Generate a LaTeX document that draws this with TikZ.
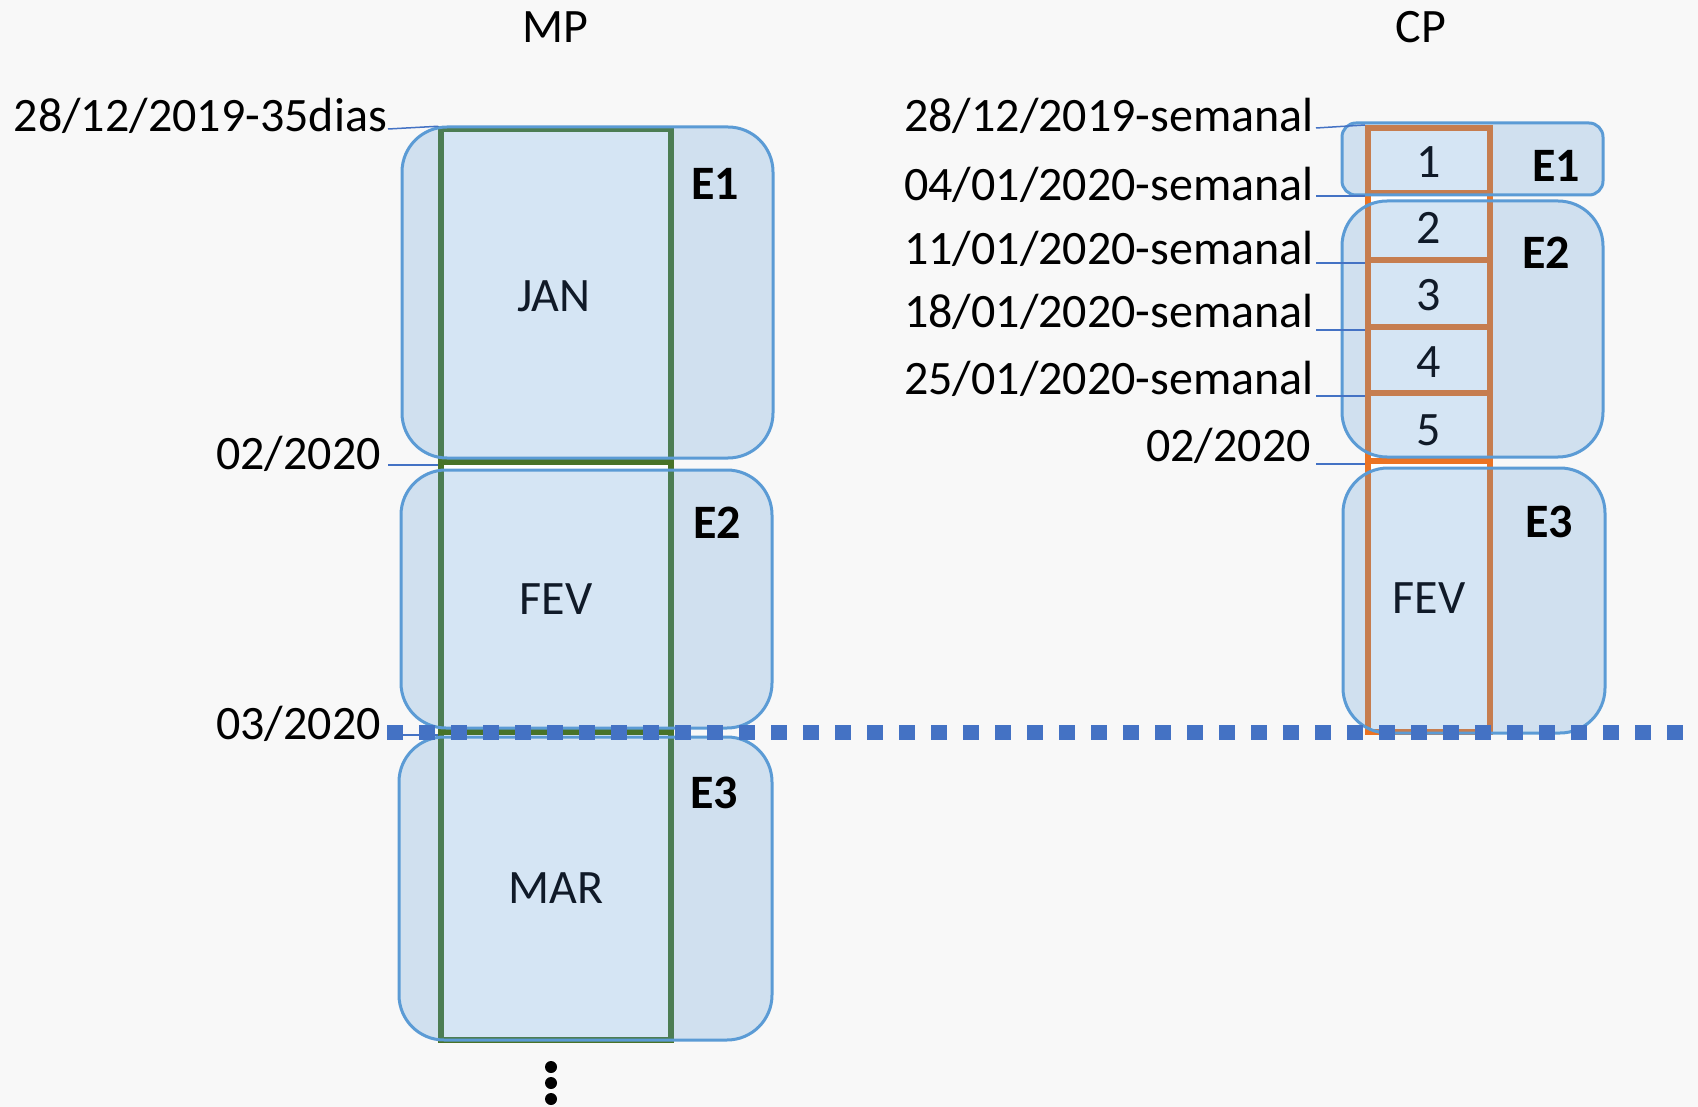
\documentclass[tikz,border=0pt]{standalone}
\usepackage{fontspec}
\setmainfont{Carlito}
\definecolor{bgc}{HTML}{F8F8F8}
\definecolor{boxb}{HTML}{5B9BD5}
\definecolor{grn}{RGB}{72,115,40}
\definecolor{org}{RGB}{235,115,35}
\definecolor{ldr}{HTML}{4472C4}
\definecolor{txt}{RGB}{16,26,40}
\begin{document}
\begin{tikzpicture}[x=1pt,y=-1pt,
  big/.style={font=\fontsize{48}{58}\selectfont},
  lab/.style={big, inner sep=0pt, anchor=base east, text=black},
  ctext/.style={big, inner sep=0pt, text=txt},
  etext/.style={big, inner sep=0pt, text=black, font=\fontsize{48}{58}\selectfont\bfseries},
  mpcell/.style={draw=grn, line width=5.5pt, fill=white, minimum width=230pt, inner sep=0pt},
  cpcell/.style={draw=org, line width=6pt, fill=white, minimum width=122pt, inner sep=0pt},
  ebox/.style={draw=boxb, line width=3pt, fill=boxb, fill opacity=0.25, draw opacity=1, rounded corners=45pt, inner sep=0pt},
  leader/.style={draw=ldr, line width=1.5pt},
  dotline/.style={draw=ldr, line width=15pt, dash pattern=on 16pt off 16pt},
  vdot/.style={circle, fill=black, minimum size=12pt, inner sep=0pt}
]
\fill[bgc] (0,0) rectangle (1698,1107);
\useasboundingbox (0,0) rectangle (1698,1107);

% ---------- MP column ----------
\node[mpcell, minimum height=333pt] (jan) at (556,295.5) {};
\node[mpcell, minimum height=270pt] (fev) at (556,597) {};
\node[mpcell, minimum height=308pt] (mar) at (556,886) {};

\node[ebox, minimum width=371pt, minimum height=331pt] (be1) at (587.5,292.5) {};
\node[ebox, minimum width=371pt, minimum height=258pt] (be2) at (586.5,599) {};
\node[ebox, minimum width=373pt, minimum height=303pt] (be3) at (585.5,888.5) {};

\node[ctext] (tjan) at (554,296) {JAN};
\node[ctext] (tfev) at (556,599) {FEV};
\node[ctext] (tmar) at (556,888) {MAR};
\node[etext] (le1) at (715,184) {E1};
\node[etext] (le2) at (717,523) {E2};
\node[etext] (le3) at (714,793) {E3};

\node[big, inner sep=0pt] (mp) at (555,27) {MP};
\node[lab] (l1) at (387,132) {28/12/2019-35dias};
\node[lab] (l2) at (381,469) {02/2020};
\node[lab] (l3) at (381,739) {03/2020};
\coordinate (l1e) at (388,129);
\draw[leader] (l1e) -- (jan.north west);
\draw[leader] (jan.south west -| l1e) -- (jan.south west);
\draw[leader] (fev.south west -| l1e) -- (fev.south west);

\node[vdot] (d1) at (551,1067) {};
\node[vdot] (d2) at (551,1083) {};
\node[vdot] (d3) at (551,1099) {};

% ---------- CP column ----------
\node[cpcell, minimum height=65pt] (c1) at (1429,160.5) {};
\node[cpcell, minimum height=67pt] (c2) at (1429,226.5) {};
\node[cpcell, minimum height=67pt] (c3) at (1429,293.5) {};
\node[cpcell, minimum height=66pt] (c4) at (1429,360) {};
\node[cpcell, minimum height=68pt] (c5) at (1429,427) {};
\node[cpcell, minimum height=271pt] (c6) at (1429,596.5) {};

\node[ebox, rounded corners=14pt, minimum width=261pt, minimum height=72pt] (bc1) at (1472.5,159) {};
\node[ebox, minimum width=261pt, minimum height=256pt] (bc2) at (1472.5,329) {};
\node[ebox, minimum width=262pt, minimum height=265pt] (bc3) at (1474,600.5) {};

\node[ctext] (n1) at (1429,162) {1};
\node[ctext] (n2) at (1429,228) {2};
\node[ctext] (n3) at (1429,295) {3};
\node[ctext] (n4) at (1429,362) {4};
\node[ctext] (n5) at (1429,430) {5};
\node[ctext] (n6) at (1429,598) {FEV};
\node[etext] (re1) at (1556,166) {E1};
\node[etext] (re2) at (1546,253) {E2};
\node[etext] (re3) at (1549,522) {E3};

\node[big, inner sep=0pt] (cp) at (1421,27) {CP};
\node[lab] (r1) at (1314,132) {28/12/2019-semanal};
\node[lab] (r2) at (1314,201) {04/01/2020-semanal};
\node[lab] (r3) at (1314,265) {11/01/2020-semanal};
\node[lab] (r4) at (1314,328) {18/01/2020-semanal};
\node[lab] (r5) at (1314,395) {25/01/2020-semanal};
\node[lab] (r6) at (1311,461) {02/2020};
\coordinate (r1e) at (1316,128);
\draw[leader] (r1e) -- (c1.north west);
\draw[leader] (c1.south west -| r1e) -- (c1.south west);
\draw[leader] (c2.south west -| r1e) -- (c2.south west);
\draw[leader] (c3.south west -| r1e) -- (c3.south west);
\draw[leader] (c4.south west -| r1e) -- (c4.south west);
\draw[leader] (c5.south west -| r1e) -- (c5.south west);

% ---------- dotted line ----------
\coordinate (dl0) at (387,732);
\coordinate (dl1) at (1698,732);
\draw[dotline] (dl0) -- (dl1);
\end{tikzpicture}
\end{document}
